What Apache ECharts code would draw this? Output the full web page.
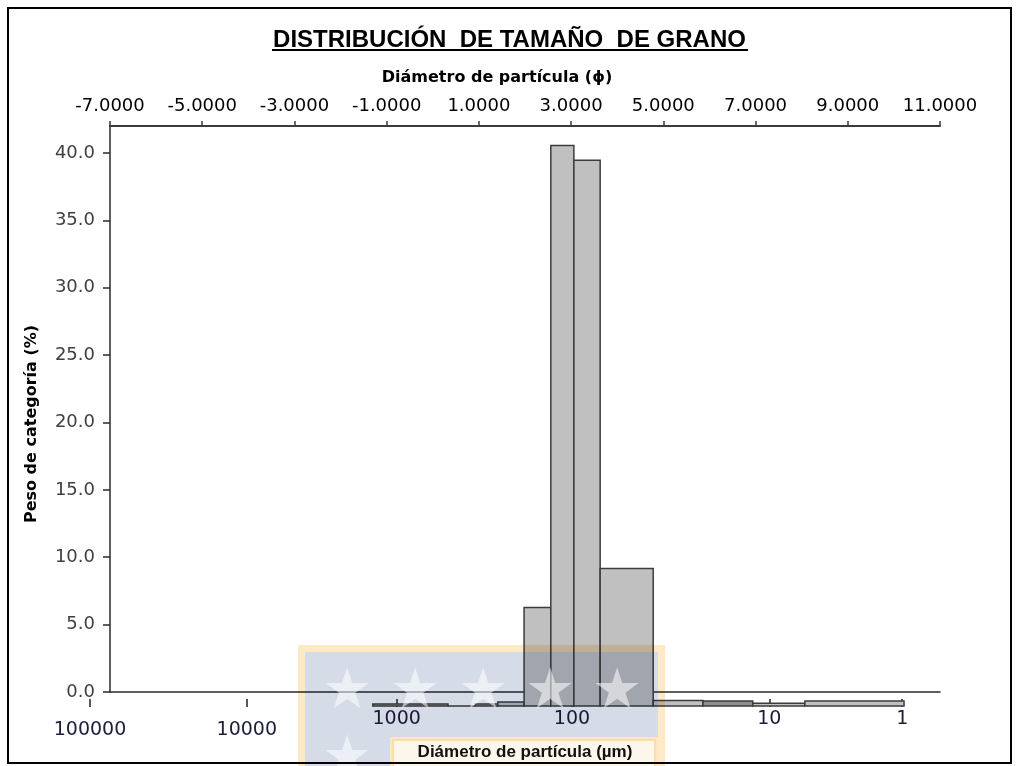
<!DOCTYPE html>
<html><head><meta charset="utf-8">
<script src="https://cdn.jsdelivr.net/npm/echarts@6/dist/echarts.min.js"></script>
<style>html,body{margin:0;padding:0;background:#fff}#c{width:1019px;height:766px}</style>
</head><body><div id="c"></div>
<script>
// ---- data ----
const chartTitle = 'DISTRIBUCIÓN  DE TAMAÑO  DE GRANO';
const topAxisName = 'Diámetro de partícula (ϕ)';
const bottomAxisName = 'Diámetro de partícula (µm)';
const yAxisName = 'Peso de categoría (%)';
// class edges in phi units (read against the top axis)
const binEdgesPhi = [-1.30, 0.33, 0.92, 1.41, 1.98, 2.56, 3.06, 3.63, 4.78, 5.86, 6.94, 8.07, 10.22];
// weight of each class (%)
const weightPct = [0.15, 0.0, 0.15, 0.30, 7.3, 41.6, 40.5, 10.2, 0.40, 0.37, 0.20, 0.37];
// top axis (phi)
const phiMin = -7, phiMax = 11, phiStep = 2;
// y axis
const yMin = 0, yMax = 42, yStep = 5;
// bottom micron axis: labels and where they sit on the phi scale of the picture
const micronTickLabels = ['100000', '10000', '1000', '100', '10', '1'];
const micronTickPhi = [-7.43, -4.03, -0.78, 3.02, 7.30, 10.18];
const micronAxisMinPhi = -7.43;

const FONT = '"Liberation Sans", Arial, sans-serif';
const WIDE = '"DejaVu Sans", "Liberation Sans", sans-serif';
const bars = binEdgesPhi.slice(0, -1).map((e, i) => [e, binEdgesPhi[i + 1], weightPct[i]]);
const yTicks = []; for (let v = yMin; v <= 40; v += yStep) yTicks.push(v);

const chart = echarts.init(document.getElementById('c'), null, {renderer: 'canvas'});
const option = {
  animation: false,
  backgroundColor: '#fff',
  title: {
    text: chartTitle, left: 'center', top: 23,
    textStyle: {fontFamily: FONT, fontSize: 24, fontWeight: 'bold', color: '#000'}
  },
  grid: [
    {left: 110, right: 79, top: 126, bottom: 74},   // axes frame
    {left: 110, right: 79, top: 140, bottom: 60},   // bars (baseline sits lower in the picture)
    {left: 90, right: 79, top: 140, bottom: 60}     // micron axis
  ],
  xAxis: [
    {
      gridIndex: 0, type: 'value', position: 'top', min: phiMin, max: phiMax, interval: phiStep,
      name: topAxisName, nameLocation: 'middle', nameGap: 40,
      nameTextStyle: {fontFamily: WIDE, fontSize: 16, fontWeight: 'bold', color: '#000', padding: [0, 56, 0, 0]},
      axisLine: {show: true, onZero: false, lineStyle: {color: '#3a3a3a', width: 2}},
      axisTick: {show: true, inside: false, length: 5, lineStyle: {color: '#3a3a3a', width: 1.5}},
      axisLabel: {fontFamily: WIDE, fontSize: 18, color: '#000', margin: 11, formatter: v => v.toFixed(4)},
      splitLine: {show: false}
    },
    {
      gridIndex: 0, type: 'value', position: 'bottom', min: phiMin, max: phiMax,
      axisLine: {show: true, onZero: false, lineStyle: {color: '#2a2a2a', width: 1.5}},
      axisTick: {show: false}, axisLabel: {show: false}, splitLine: {show: false}
    },
    {
      gridIndex: 1, type: 'value', min: phiMin, max: phiMax, show: false
    },
    {
      gridIndex: 2, type: 'value', position: 'bottom', min: micronAxisMinPhi, max: phiMax,
      name: bottomAxisName, nameLocation: 'middle', nameGap: 43,
      nameTextStyle: {fontFamily: FONT, fontSize: 17, fontWeight: 'bold', color: '#111', padding: [0, 0, 0, 20]},
      axisLine: {show: false, onZero: false},
      axisTick: {show: true, length: 8, customValues: micronTickPhi, lineStyle: {color: '#222', width: 1.5}},
      axisLabel: {
        show: true, customValues: micronTickPhi, margin: 10,
        formatter: v => {
          const i = micronTickPhi.findIndex(p => Math.abs(p - v) < 1e-6);
          const t = i >= 0 ? micronTickLabels[i] : '';
          return i >= 0 && i < 2 ? '{lo|' + t + '}' : '{hi|' + t + '}';
        },
        rich: {
          lo: {fontFamily: WIDE, fontSize: 19, color: '#1c1c3c', padding: [11, 0, 0, 0]},
          hi: {fontFamily: WIDE, fontSize: 19, color: '#1c1c3c'}
        }
      },
      splitLine: {show: false}
    }
  ],
  yAxis: [
    {
      gridIndex: 0, type: 'value', min: yMin, max: yMax,
      name: yAxisName, nameLocation: 'middle', nameGap: 70, nameRotate: 90,
      nameTextStyle: {fontFamily: WIDE, fontSize: 16, fontWeight: 'bold', color: '#000', padding: [0, 30, 0, 0]},
      axisLine: {show: true, onZero: false, lineStyle: {color: '#2a2a2a', width: 1.5}},
      axisTick: {show: true, length: 7, customValues: yTicks, lineStyle: {color: '#2a2a2a', width: 1.5}},
      axisLabel: {fontFamily: WIDE, fontSize: 18, color: '#404040', margin: 15, customValues: yTicks,
        formatter: v => v.toFixed(1)},
      splitLine: {show: false}
    },
    {gridIndex: 1, type: 'value', min: yMin, max: yMax, show: false},
    {gridIndex: 2, type: 'value', min: yMin, max: yMax, show: false}
  ],
  series: [{
    type: 'custom', xAxisIndex: 2, yAxisIndex: 1, data: bars, clip: false,
    renderItem: (params, api) => {
      const a = api.coord([api.value(0), api.value(2)]);
      const b = api.coord([api.value(1), 0]);
      const dark = params.dataIndex === 9;
      return {
        type: 'rect',
        shape: {x: a[0], y: a[1], width: b[0] - a[0], height: b[1] - a[1]},
        style: {fill: dark ? '#8e8e8e' : '#c0c0c0', stroke: '#3c3c3c', lineWidth: 1.5}
      };
    }
  }],
  graphic: [
    // title underline
    {type: 'line', shape: {x1: 272, y1: 50, x2: 748, y2: 50}, style: {stroke: '#000', lineWidth: 2}},
    // watermark: orange frame, blue field with stars, lighter inner box
    {type: 'rect', z: 100, shape: {x: 301.5, y: 648.5, width: 360, height: 125},
      style: {fill: 'none', stroke: '#fde9c6', lineWidth: 7, blend: 'multiply'}},
    {type: 'rect', z: 101, shape: {x: 305, y: 652, width: 353, height: 85},
      style: {fill: '#d5dce8', blend: 'multiply'}},
    {type: 'rect', z: 101, shape: {x: 305, y: 737, width: 85, height: 33},
      style: {fill: '#d5dce8', blend: 'multiply'}},
    {type: 'rect', z: 101, shape: {x: 392, y: 739, width: 264, height: 30},
      style: {fill: '#fdf6ea', stroke: '#fde6c0', lineWidth: 4, blend: 'multiply'}},
    ...[347, 415, 483, 550, 617].map(x => ({type: 'text', z: 102, x: x, y: 693,
      style: {text: '★', font: '56px "DejaVu Sans"', fill: '#ffffff', opacity: 0.55, align: 'center', verticalAlign: 'middle'}})),
    {type: 'text', z: 102, x: 347, y: 760,
      style: {text: '★', font: '56px "DejaVu Sans"', fill: '#ffffff', opacity: 0.55, align: 'center', verticalAlign: 'middle'}},
    // outer frame
    {type: 'rect', z: 200, shape: {x: 8, y: 8, width: 1003, height: 755},
      style: {fill: 'none', stroke: '#000', lineWidth: 2}}
  ]
};
chart.setOption(option);
</script>
</body></html>
